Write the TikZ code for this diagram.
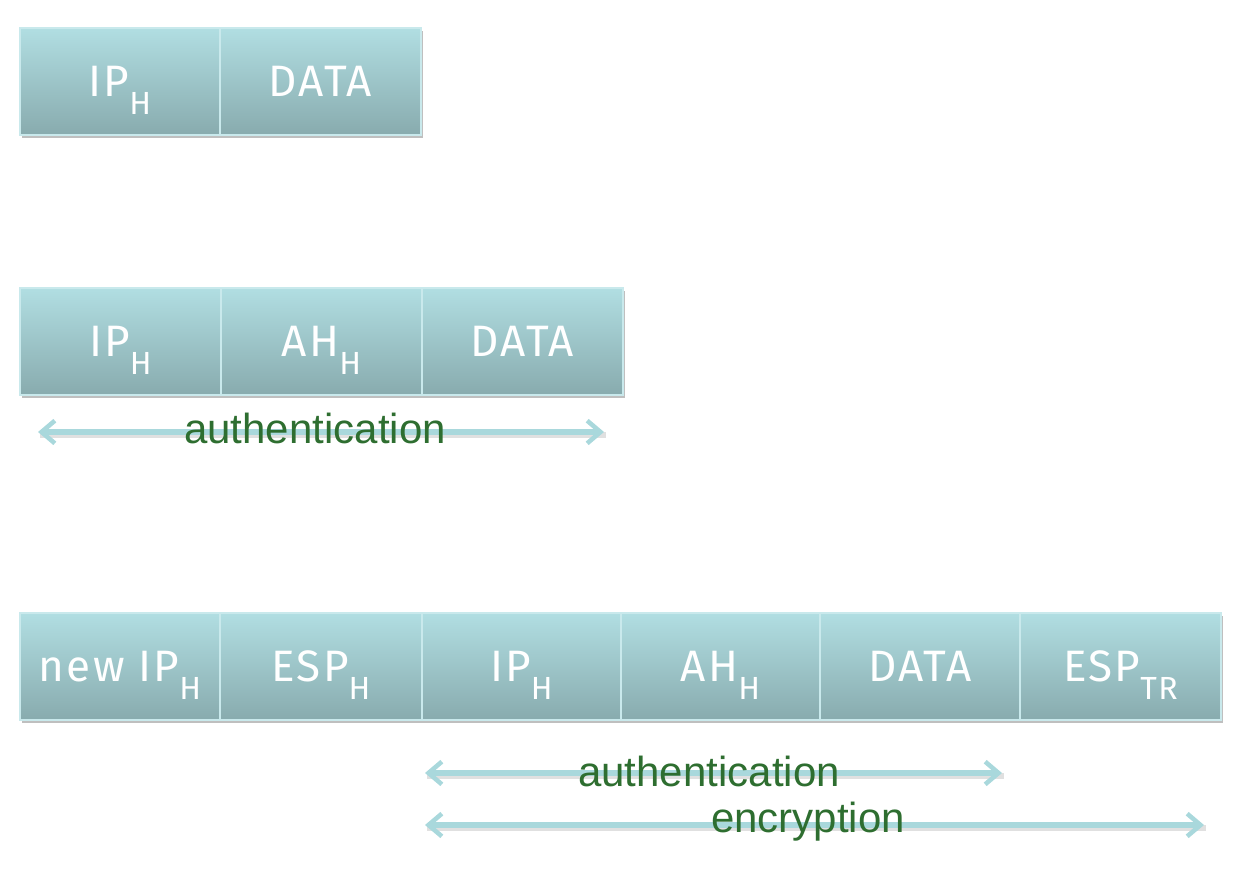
\documentclass[tikz,border=0pt]{standalone}
\usepackage{fontspec}
\setmainfont{Liberation Sans}
\newfontfamily\boxfont{Fira Sans}[LetterSpace=5]
\usetikzlibrary{arrows.meta,shadows}
\definecolor{celltop}{HTML}{B1DEE2}
\definecolor{cellbot}{HTML}{88ABAE}
\definecolor{cellline}{HTML}{C9E9EC}
\definecolor{arrowc}{HTML}{A9D8DC}
\definecolor{labgreen}{HTML}{2E6E30}
\newcommand\lowsub[1]{\raisebox{-0.75ex}{\fontsize{24}{24}\selectfont #1}}
\tikzset{
  cell/.style={rectangle, draw=cellline, line width=0.8pt, top color=celltop, bottom color=cellbot,
    minimum height=80.25pt, inner sep=0pt, text=white, text height=23pt, text depth=0pt,
    font=\boxfont\fontsize{33}{33}\selectfont,
    drop shadow={shadow xshift=1.5pt, shadow yshift=-2.2pt, fill=black, opacity=0.25}},
  span/.style={draw=arrowc, line width=4pt, {Straight Barb[length=10pt,width=17pt,line width=3.4pt]}-{Straight Barb[length=10pt,width=17pt,line width=3.4pt]}},
  spanshadow/.style={draw=black!40, opacity=0.3, line width=4pt},
  lab/.style={text=labgreen, font=\fontsize{31.5}{31.5}\selectfont, inner sep=0pt}
}
\begin{document}
\begin{tikzpicture}[x=0.75pt,y=-0.75pt]
\useasboundingbox (0,0) rectangle (1239,874);
% row 1
\node[cell, minimum width=150pt] (a1) at (120,81.5) {IP\lowsub{H}};
\node[cell, minimum width=150.75pt] (a2) at (320.5,81.5) {DATA};
% row 2
\node[cell, minimum width=150.75pt] (b1) at (120.5,341.5) {IP\lowsub{H}};
\node[cell, minimum width=150.75pt] (b2) at (321.5,341.5) {AH\lowsub{H}};
\node[cell, minimum width=150.75pt] (b3) at (522.5,341.5) {DATA};
% row 3
\node[cell, minimum width=150pt] (c1) at (120,666.5) {new IP\lowsub{H}};
\node[cell, minimum width=151.5pt] (c2) at (321,666.5) {ESP\lowsub{H}};
\node[cell, minimum width=149.25pt] (c3) at (521.5,666.5) {IP\lowsub{H}};
\node[cell, minimum width=149.25pt] (c4) at (720.5,666.5) {AH\lowsub{H}};
\node[cell, minimum width=150pt] (c5) at (920,666.5) {DATA};
\node[cell, minimum width=150.75pt] (c6) at (1120.5,666.5) {ESP\lowsub{TR}};
% arrows
\coordinate (p1) at (38,432);
\coordinate (p2) at (604,432);
\coordinate (q1) at (425,773);
\coordinate (q2) at (1002,773);
\coordinate (r1) at (425,825);
\coordinate (r2) at (1204,825);
\draw[spanshadow] ([shift={(2,3)}]p1) -- ([shift={(2,3)}]p2);
\draw[spanshadow] ([shift={(2,3)}]q1) -- ([shift={(2,3)}]q2);
\draw[spanshadow] ([shift={(2,3)}]r1) -- ([shift={(2,3)}]r2);
\draw[span] (p1) -- (p2);
\draw[span] (q1) -- (q2);
\draw[span] (r1) -- (r2);
\node[lab] (t1) at (315,428) {authentication};
\node[lab] (t2) at (709,771) {authentication};
\node[lab] (t3) at (808,822) {encryption};
\end{tikzpicture}
\end{document}
